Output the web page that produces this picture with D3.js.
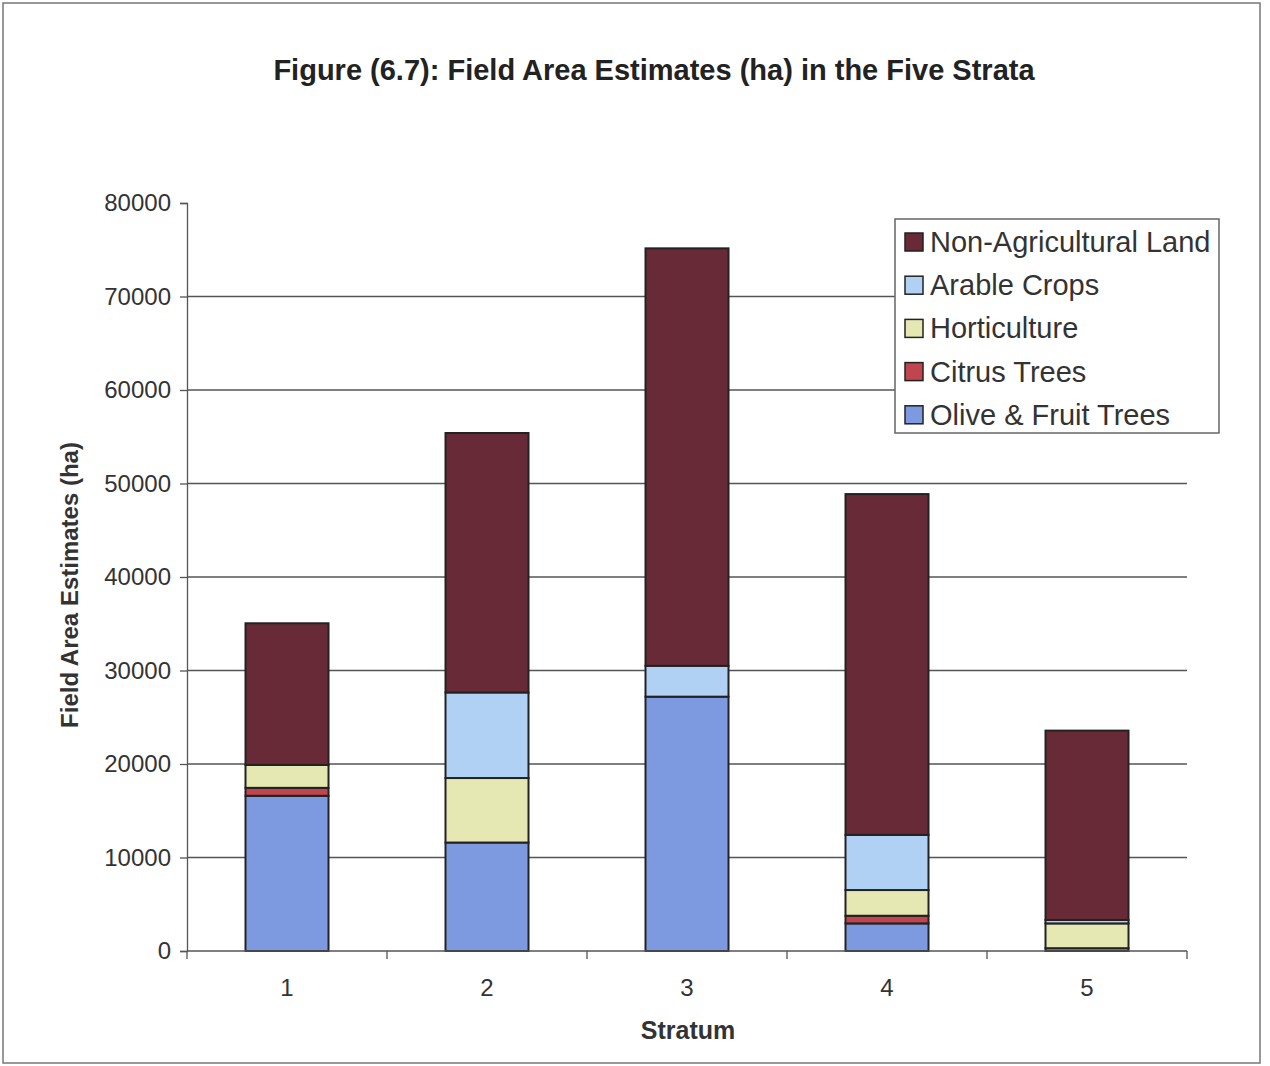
<!DOCTYPE html>
<html>
<head>
<meta charset="utf-8">
<script src="https://cdn.jsdelivr.net/npm/d3@7"></script>
<style>
  body { margin: 0; background: #fff; }
  svg { font-family: "Liberation Sans", Arial, sans-serif; }
</style>
</head>
<body>
<script>
// data
const strata = ['1', '2', '3', '4', '5'];
const seriesNames = ['Olive & Fruit Trees', 'Citrus Trees', 'Horticulture', 'Arable Crops', 'Non-Agricultural Land'];
const olive = [16600, 11600, 27200, 2950, 300];
const citrus = [850, 0, 0, 820, 0];
const horticulture = [2450, 6900, 0, 2750, 2650];
const arable = [0, 9150, 3300, 5900, 370];
const nonAgri = [15150, 27750, 44650, 36450, 20250];
const seriesColors = ['#7d9ae0', '#c0454f', '#e6e8b4', '#b0d0f4', '#692a38'];
const yTicks = [0, 10000, 20000, 30000, 40000, 50000, 60000, 70000, 80000];

const width = 1270, height = 1066;
const plotLeft = 187, plotRight = 1187, plotTop = 203, plotBottom = 951;

const svg = d3.select('body').append('svg')
  .attr('width', width)
  .attr('height', height);

// outer frame
svg.append('rect')
  .attr('x', 3).attr('y', 3)
  .attr('width', 1257).attr('height', 1060)
  .attr('fill', 'none')
  .attr('stroke', '#777')
  .attr('stroke-width', 1.5);

svg.append('text')
  .attr('x', 654).attr('y', 80)
  .attr('text-anchor', 'middle')
  .attr('font-size', 29).attr('font-weight', 'bold')
  .attr('fill', '#222')
  .text('Figure (6.7): Field Area Estimates (ha) in the Five Strata');

let x = d3.scaleBand().domain(strata).range([plotLeft, plotRight])
  .paddingInner(0.585).paddingOuter(0.2925);
let y = d3.scaleLinear().domain([0, 80000]).range([plotBottom, plotTop]);

// gridlines
svg.append('g').selectAll('line')
  .data(yTicks.filter(d => d > 0 && d < 80000))
  .join('line')
  .attr('x1', plotLeft).attr('x2', plotRight)
  .attr('y1', d => y(d)).attr('y2', d => y(d))
  .attr('stroke', '#555').attr('stroke-width', 1.3);

// stacked data
const rows = strata.map((s, i) => ({
  stratum: s,
  'Olive & Fruit Trees': olive[i],
  'Citrus Trees': citrus[i],
  'Horticulture': horticulture[i],
  'Arable Crops': arable[i],
  'Non-Agricultural Land': nonAgri[i]
}));
const stacked = d3.stack().keys(seriesNames)(rows);
const color = d3.scaleOrdinal().domain(seriesNames).range(seriesColors);

svg.append('g').selectAll('g')
  .data(stacked)
  .join('g')
  .attr('fill', d => color(d.key))
  .selectAll('rect')
  .data(d => d.filter(p => p[1] - p[0] > 0))
  .join('rect')
  .attr('x', d => x(d.data.stratum))
  .attr('width', x.bandwidth())
  .attr('y', d => y(d[1]))
  .attr('height', d => y(d[0]) - y(d[1]))
  .attr('stroke', '#222')
  .attr('stroke-width', 2);

// y axis
const yAxis = svg.append('g')
  .attr('transform', `translate(${plotLeft},0)`)
  .call(d3.axisLeft(y).tickValues(yTicks).tickSize(7).tickPadding(9).tickFormat(d3.format('d')));
yAxis.selectAll('text').attr('font-size', 24).attr('fill', '#333').attr('font-family', '"Liberation Sans", Arial, sans-serif');
yAxis.selectAll('line, path').attr('stroke', '#555').attr('stroke-width', 1.3);

// x axis: ticks between categories
svg.append('line')
  .attr('x1', plotLeft).attr('x2', plotRight)
  .attr('y1', plotBottom).attr('y2', plotBottom)
  .attr('stroke', '#555').attr('stroke-width', 1.3);
const step = x.step();
svg.append('g').selectAll('line')
  .data(d3.range(strata.length + 1))
  .join('line')
  .attr('x1', i => plotLeft + i * step).attr('x2', i => plotLeft + i * step)
  .attr('y1', plotBottom).attr('y2', plotBottom + 8)
  .attr('stroke', '#555').attr('stroke-width', 1.3);
svg.append('g').selectAll('text')
  .data(strata)
  .join('text')
  .attr('x', d => x(d) + x.bandwidth() / 2)
  .attr('y', 996)
  .attr('text-anchor', 'middle')
  .attr('font-size', 24).attr('fill', '#333')
  .text(d => d);

svg.append('text')
  .attr('x', 688).attr('y', 1039)
  .attr('text-anchor', 'middle')
  .attr('font-size', 25).attr('font-weight', 'bold').attr('fill', '#333')
  .text('Stratum');

svg.append('text')
  .attr('transform', 'translate(78,585) rotate(-90)')
  .attr('text-anchor', 'middle')
  .attr('font-size', 24).attr('font-weight', 'bold').attr('fill', '#333')
  .text('Field Area Estimates (ha)');

// legend
const legend = svg.append('g');
legend.append('rect')
  .attr('x', 895).attr('y', 219)
  .attr('width', 324).attr('height', 214)
  .attr('fill', '#fff').attr('stroke', '#666').attr('stroke-width', 1.5);
const legendOrder = seriesNames.slice().reverse();
const item = legend.selectAll('g.item')
  .data(legendOrder)
  .join('g')
  .attr('class', 'item')
  .attr('transform', (d, i) => `translate(905,${242 + i * 43.2})`);
item.append('rect')
  .attr('x', 0).attr('y', -9)
  .attr('width', 18).attr('height', 18)
  .attr('fill', d => color(d))
  .attr('stroke', '#222').attr('stroke-width', 1.5);
item.append('text')
  .attr('x', 25).attr('y', 10)
  .attr('font-size', 29).attr('fill', '#333')
  .text(d => d);
</script>
</body>
</html>
